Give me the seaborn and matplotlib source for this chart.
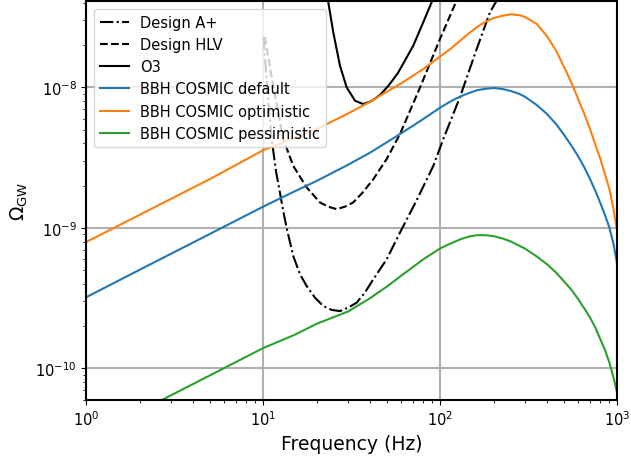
import numpy as np
import pandas as pd
import seaborn as sns
import matplotlib
matplotlib.use("Agg")
import matplotlib.pyplot as plt

# detector power-law integrated curves
aplus_f = [10.0, 10.53, 11.13, 11.77, 12.40, 12.94, 13.53, 14.74, 16.08, 17.54,
           19.54, 21.77, 24.29, 27.05, 30.14, 33.62, 37.45, 41.72, 49.66, 59.05,
           73.4, 91.07, 103.7, 128.9, 160.2, 190.4, 207.8]
aplus_omega = [2.28e-8, 9.41e-9, 4.28e-9, 2.53e-9, 1.767e-9, 1.315e-9, 9.95e-10,
               6.29e-10, 4.68e-10, 3.86e-10, 3.19e-10, 2.78e-10, 2.61e-10,
               2.56e-10, 2.71e-10, 2.94e-10, 3.47e-10, 4.31e-10, 5.98e-10,
               9.27e-10, 1.576e-9, 2.76e-9, 4.28e-9, 8.53e-9, 1.875e-8, 3.42e-8,
               4.14e-8]

hlv_f = [10.2, 11.17, 12.94, 14.74, 17.54, 20.86, 23.23, 25.92, 28.87, 32.16,
         36.49, 41.72, 49.66, 59.05, 76.6, 99.4, 123.1]
hlv_omega = [2.28e-8, 1.146e-8, 4.28e-9, 2.76e-9, 1.94e-9, 1.517e-9, 1.416e-9,
             1.359e-9, 1.416e-9, 1.517e-9, 1.796e-9, 2.22e-9, 3.09e-9, 4.65e-9,
             9.95e-9, 2.21e-8, 4.12e-8]

o3_f = [23.2, 24.8, 27.05, 29.5, 32.9, 36.6, 40.8, 45.5, 51.2, 57.5, 70.2, 79.9,
        91.1]
o3_omega = [4.08e-8, 2.46e-8, 1.425e-8, 1.0e-8, 8.03e-9, 7.6e-9, 7.99e-9,
            8.81e-9, 1.038e-8, 1.264e-8, 1.98e-8, 2.9e-8, 4.30e-8]

# BBH background models
bbh_f = [1, 2, 5, 10, 15, 20, 30, 40, 50, 60, 80, 100, 115, 130, 145, 160, 180,
         200, 225, 250, 280, 300, 350, 400, 450, 500, 550, 600, 650, 700, 750,
         800, 850, 900, 950, 1000]
default_omega = [3.22e-10, 5.04e-10, 9.08e-10, 1.42e-9, 1.82e-9, 2.16e-9,
                 2.81e-9, 3.43e-9, 4.08e-9, 4.71e-9, 5.95e-9, 7.20e-9, 7.99e-9,
                 8.63e-9, 9.11e-9, 9.52e-9, 9.77e-9, 9.89e-9, 9.72e-9, 9.41e-9,
                 8.96e-9, 8.57e-9, 7.48e-9, 6.45e-9, 5.48e-9, 4.57e-9, 3.84e-9,
                 3.22e-9, 2.69e-9, 2.22e-9, 1.835e-9, 1.50e-9, 1.232e-9,
                 1.006e-9, 7.65e-10, 5.36e-10]
optimistic_omega = [7.95e-10, 1.24e-9, 2.23e-9, 3.58e-9, 4.38e-9, 5.05e-9,
                    6.51e-9, 7.9e-9, 9.34e-9, 1.068e-8, 1.35e-8, 1.662e-8,
                    1.896e-8, 2.162e-8, 2.424e-8, 2.676e-8, 2.932e-8, 3.115e-8,
                    3.236e-8, 3.311e-8, 3.257e-8, 3.168e-8, 2.824e-8, 2.307e-8,
                    1.823e-8, 1.388e-8, 1.073e-8, 8.25e-9, 6.45e-9, 5.05e-9,
                    3.90e-9, 3.09e-9, 2.41e-9, 1.887e-9, 1.359e-9, 9.02e-10]
pessimistic_omega = [3.17e-11, 4.96e-11, 8.95e-11, 1.40e-10, 1.735e-10, 2.08e-10,
                     2.54e-10, 3.16e-10, 3.84e-10, 4.57e-10, 5.98e-10, 7.17e-10,
                     7.78e-10, 8.31e-10, 8.68e-10, 8.87e-10, 8.87e-10, 8.73e-10,
                     8.40e-10, 8.00e-10, 7.44e-10, 7.13e-10, 6.26e-10, 5.51e-10,
                     4.81e-10, 4.15e-10, 3.62e-10, 3.11e-10, 2.67e-10, 2.30e-10,
                     1.953e-10, 1.612e-10, 1.352e-10, 1.10e-10, 8.60e-11, 6.54e-11]

plt.rcParams['font.size'] = 10.5
plt.rcParams['axes.linewidth'] = 1.5

fig = plt.figure(figsize=(6.31, 4.6), dpi=100)
ax = fig.add_axes([0.137, 0.129, 0.8416, 0.8656])

sns.lineplot(x=aplus_f, y=aplus_omega, ax=ax, color='black', linestyle='-.',
             label='Design A+', estimator=None)
sns.lineplot(x=hlv_f, y=hlv_omega, ax=ax, color='black', linestyle='--',
             label='Design HLV', estimator=None)
sns.lineplot(x=o3_f, y=o3_omega, ax=ax, color='black', linestyle='-',
             label='O3', estimator=None)
sns.lineplot(x=bbh_f, y=default_omega, ax=ax, color='tab:blue',
             label='BBH COSMIC default', estimator=None)
sns.lineplot(x=bbh_f, y=optimistic_omega, ax=ax, color='tab:orange',
             label='BBH COSMIC optimistic', estimator=None)
sns.lineplot(x=bbh_f, y=pessimistic_omega, ax=ax, color='tab:green',
             label='BBH COSMIC pessimistic', estimator=None)

ax.set_xscale('log')
ax.set_yscale('log')
ax.set_xlim(1, 1000)
ax.set_ylim(6.0e-11, 4.08e-8)
ax.grid(True, which='major', color='#b0b0b0', linewidth=1.5)
ax.set_xlabel('Frequency (Hz)', fontsize=13.5)
ax.set_ylabel(r'$\Omega_{\rm GW}$', fontsize=13.5)
ax.legend(loc='upper left')

fig.savefig('out.png', dpi=100)
